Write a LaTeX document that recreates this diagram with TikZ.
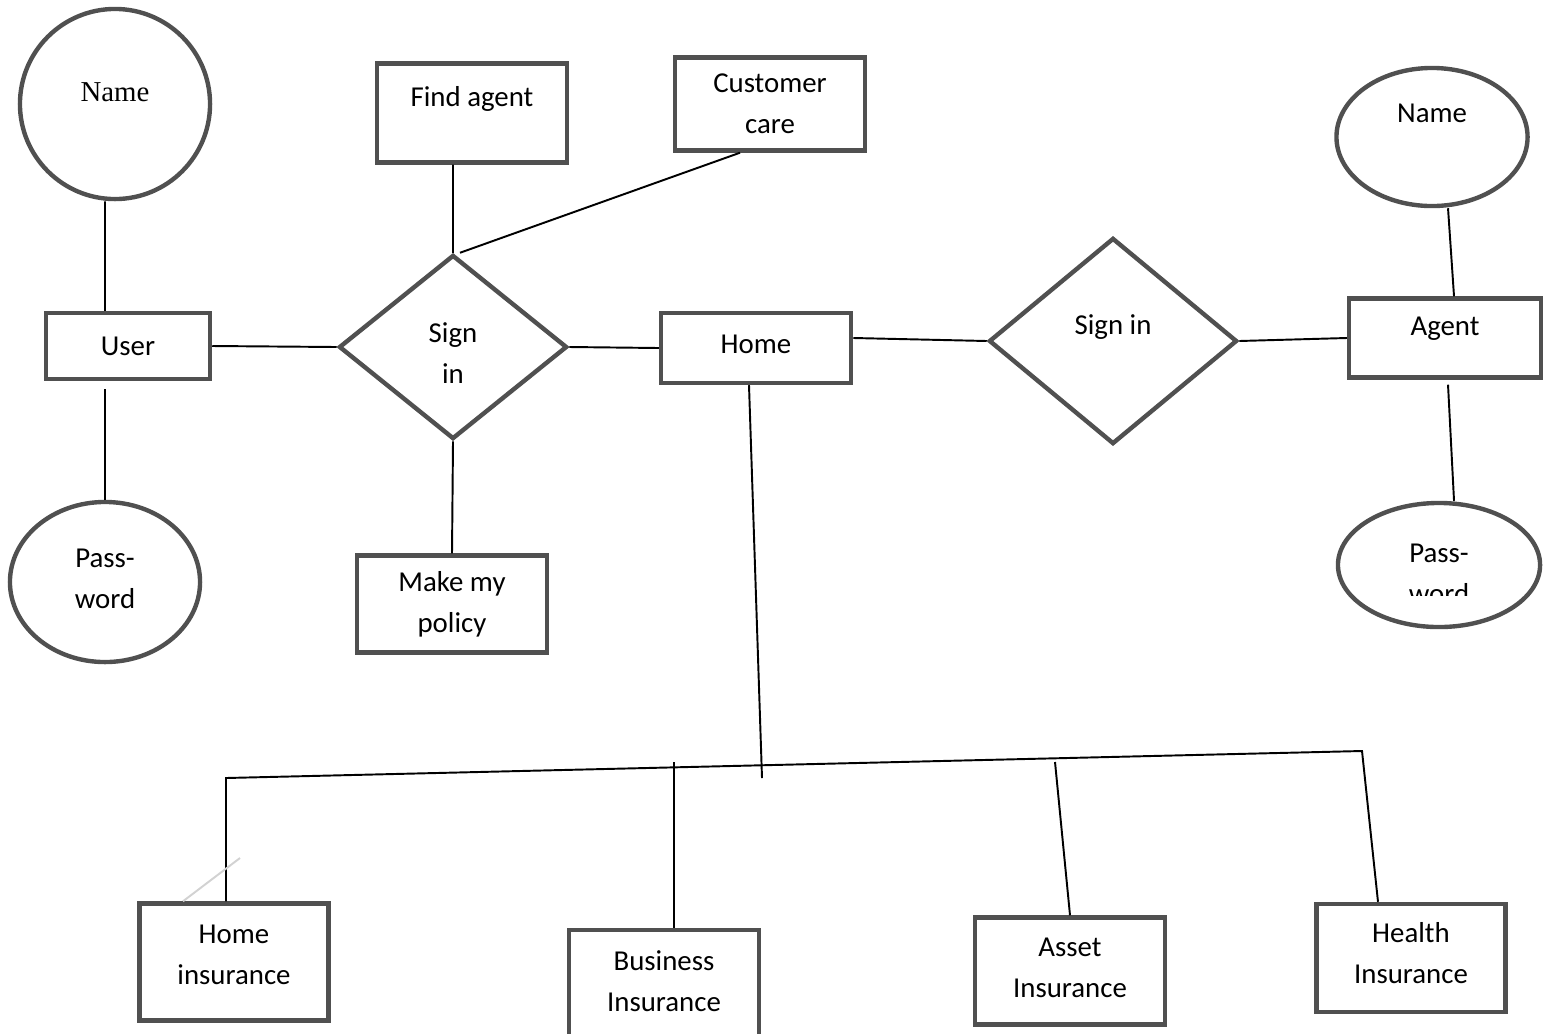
\documentclass[tikz,border=0pt]{standalone}
\usepackage{fontspec}
\setmainfont{Carlito}
\newfontfamily\serifname{Liberation Serif}
\usepackage{tikz}
\usetikzlibrary{shapes.geometric}
\definecolor{boxgray}{HTML}{505050}
\tikzset{main node/.style={shape=rectangle,
    draw=boxgray, line width=1.25pt, align=center, inner sep=0pt,
    font=\fontsize{8.2}{11.7}\selectfont},
    attr node/.style={main node, shape=ellipse},
    rel node/.style={main node, shape=diamond},
    every label/.style={font=\fontsize{8.2}{11.7}\selectfont, align=center, inner sep=0pt},
    link/.style={draw, line width=0.55pt}}

\begin{document}
\begin{tikzpicture}[x=0.01cm, y=-0.01cm]
    \useasboundingbox (0,0) rectangle (1543,1033);
    \clip (0,0) rectangle (1543,1033);

    % user side
    \node[main node, shape=circle, minimum size=1.9cm,
        label={[yshift=0.12cm, font=\serifname\fontsize{8.2}{10}\selectfont]center:Name}] (uname) at (115,104) {};
    \node[main node, minimum width=1.64cm, minimum height=0.66cm] (user) at (128,346) {User};
    \node[attr node, minimum width=1.9cm, minimum height=1.6cm,
        label={[yshift=0.035cm]center:Pass-\\word}] (upass) at (105,582) {};
    \node[rel node, minimum width=2.28cm, minimum height=1.84cm,
        label={[yshift=-0.06cm]center:Sign\\in}] (usign) at (453,347) {};

    \node[main node, minimum width=1.9cm, minimum height=0.99cm,
        label={[yshift=0.14cm]center:Find agent}] (find) at (472,113) {};
    \node[main node, minimum width=1.9cm, minimum height=0.93cm] (care) at (770,104) {Customer\\care};
    \node[main node, minimum width=1.9cm, minimum height=0.97cm] (policy) at (452,604) {Make my\\policy};
    \node[main node, minimum width=1.9cm, minimum height=0.7cm,
        label={[yshift=0.04cm]center:Home}] (home) at (756,348) {};

    % agent side
    \node[rel node, minimum width=2.48cm, minimum height=2.06cm,
        label={[yshift=0.14cm]center:Sign in}] (asign) at (1113,341) {};
    \node[main node, minimum width=1.92cm, minimum height=0.79cm,
        label={[yshift=0.09cm]center:Agent}] (agent) at (1445,338) {};
    \node[attr node, minimum width=1.91cm, minimum height=1.38cm,
        label={[yshift=0.24cm]center:Name}] (aname) at (1432,137) {};
    \node[attr node, minimum width=2.02cm, minimum height=1.24cm] (apass) at (1439,565) {};
    \begin{scope}
        \clip ([xshift=-0.8cm,yshift=0.4cm]apass.center) rectangle ([xshift=0.8cm,yshift=-0.3cm]apass.center);
        \node[font=\fontsize{8.2}{11.7}\selectfont, align=center, inner sep=0pt] (apasstext)
            at ([yshift=-0.085cm]apass.center) {Pass-\\word};
    \end{scope}

    % insurance types
    \node[main node, minimum width=1.89cm, minimum height=1.17cm,
        label={[yshift=0.07cm]center:Home\\insurance}] (hins) at (234,962) {};
    \node[main node, minimum width=1.9cm, minimum height=1.12cm,
        label={[yshift=0.045cm]center:Business\\Insurance}] (bins) at (664,986) {};
    \node[main node, minimum width=1.9cm, minimum height=1.07cm,
        label={[yshift=0.03cm]center:Asset\\Insurance}] (ains) at (1070,971) {};
    \node[main node, minimum width=1.89cm, minimum height=1.08cm,
        label={[yshift=0.045cm]center:Health\\Insurance}] (hlth) at (1411,958) {};

    \coordinate (busL) at (226,778);
    \coordinate (busR) at (1362,751);
    \coordinate (busH) at (762,778);
    \coordinate (busB) at (674,762);
    \coordinate (busA) at (1055,762);
    \coordinate (stray) at (240,858);

    \path[link]
    ([xshift=-0.1cm]uname.south) edge ([xshift=-0.23cm]user.north)
    ([xshift=-0.23cm,yshift=-0.08cm]user.south) edge (upass.north)
    (user.east) edge (usign.west)
    (usign.north) edge ([xshift=-0.19cm]find.south)
    ([xshift=0.07cm]usign.north) edge ([xshift=-0.3cm]care.south)
    (usign.south) edge (policy.north)
    (usign.east) edge (home.west)

    ([yshift=0.1cm]home.east) edge (asign.west)
    (asign.east) edge (agent.west)
    ([xshift=0.16cm]aname.south) edge ([xshift=0.09cm]agent.north)
    ([xshift=0.03cm,yshift=-0.05cm]agent.south) edge ([xshift=0.15cm]apass.north)

    ([xshift=-0.07cm]home.south) edge (busH)
    (busB) edge ([xshift=0.1cm]bins.north)
    (busA) edge (ains.north)
    ;
    \draw[line width=0.55pt] ([xshift=-0.08cm]hins.north) -- (busL) -- (busR) -- ([xshift=-0.33cm]hlth.north);
    \draw[gray!35, line width=0.55pt] ([xshift=-0.51cm]hins.north) -- (stray);
\end{tikzpicture}
\end{document}
